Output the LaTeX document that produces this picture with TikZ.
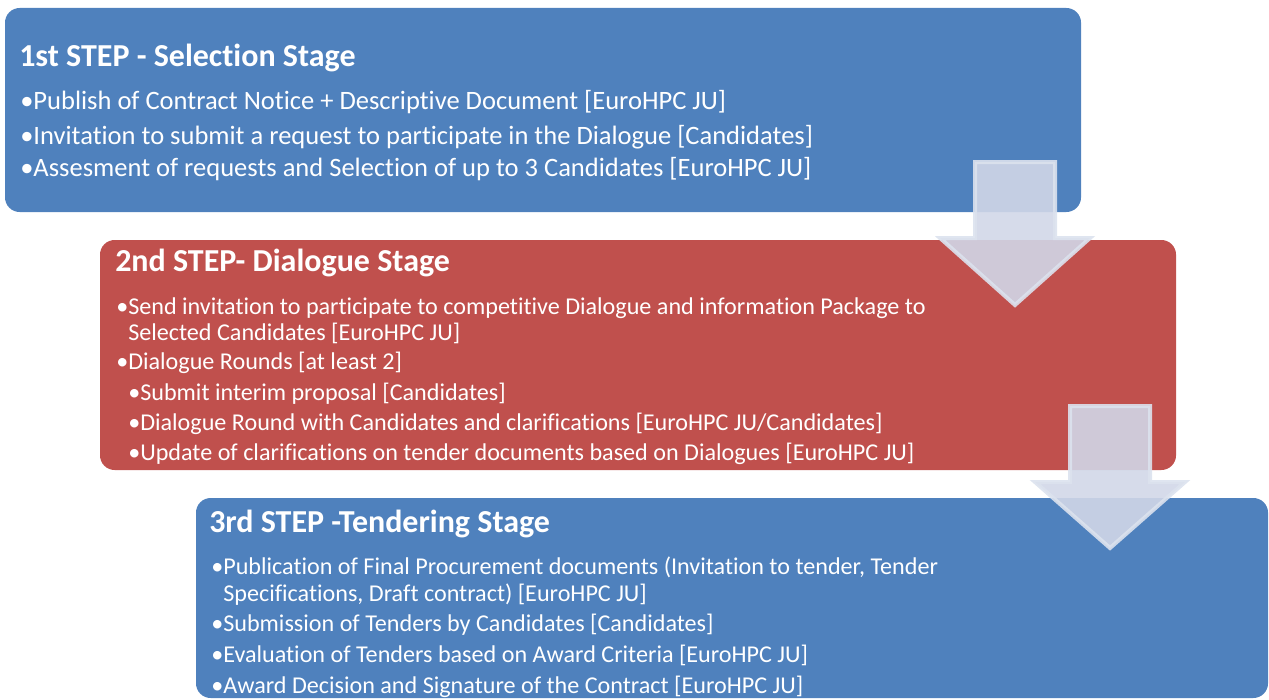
\documentclass[tikz,border=0pt]{standalone}
\usepackage{fontspec}
\setmainfont[RawFeature={-liga}]{Carlito}
\usetikzlibrary{positioning}
\definecolor{stageblue}{RGB}{79,129,189}
\definecolor{stagered}{RGB}{192,80,77}
\definecolor{flowfill}{RGB}{209,215,232}
\definecolor{flowedge}{RGB}{220,226,238}
\tikzset{
	stage/.style={
		rounded corners = 11pt,
		draw = none
	},
	head/.style={
		anchor = base west,
		inner sep = 0,
		text = white,
		font = \fontsize{24}{28}\selectfont\bfseries
	},
	item/.style={
		anchor = base west,
		inner sep = 0,
		text = white,
		font = \fontsize{18.1}{22}\selectfont
	},
	big/.style={
		font = \fontsize{19.9}{24}\selectfont
	},
	flow/.style={
		fill = flowfill,
		draw = flowedge,
		line width = 3pt,
		fill opacity = 0.9,
		draw opacity = 0.9,
		line join = miter
	},
}

\begin{document}
\begin{tikzpicture}[x=0.75pt, y=-0.75pt]
    \useasboundingbox (0,0) rectangle (1269,699);
    % selection stage
    \fill[stage, stageblue] (5,8) rectangle (1081,212);
    \node[head] (h1) at (19,66) {1st STEP - Selection Stage};
    \foreach \y/\txt [count=\i] in {
      109/{•Publish of Contract Notice + Descriptive Document [EuroHPC JU]},
      144/{•Invitation to submit a request to participate in the Dialogue [Candidates]},
      176/{•Assesment of requests and Selection of up to 3 Candidates [EuroHPC JU]}}{
      \node[item, big] (a\i) at (20,\y) {\txt};
    }
    % dialogue stage
    \fill[stage, stagered] (100,240) rectangle (1176,470);
    \node[head] (h2) at (115,271) {2nd STEP- Dialogue Stage};
    \foreach \x/\y/\txt [count=\i] in {
      116/314/{•Send invitation to participate to competitive Dialogue and information Package to},
      116/340/{\phantom{•}Selected Candidates [EuroHPC JU]},
      116/369/{•Dialogue Rounds [at least 2]},
      128/400/{•Submit interim proposal [Candidates]},
      128/430/{•Dialogue Round with Candidates and clarifications [EuroHPC JU/Candidates]},
      128/460/{•Update of clarifications on tender documents based on Dialogues [EuroHPC JU]}}{
      \node[item] (b\i) at (\x,\y) {\txt};
    }
    % arrow 1 -> 2
    \coordinate (p1) at (1015,305);
    \draw[flow] (975,162) -- (1055,162) -- (1055,238) -- (1090,238) -- (p1)
      -- (940,238) -- (975,238) -- cycle;
    % tendering stage
    \fill[stage, stageblue] (196,498) rectangle (1268,698);
    \node[head] (h3) at (209,532) {3rd STEP -Tendering Stage};
    \foreach \y/\txt [count=\i] in {
      574/{•Publication of Final Procurement documents (Invitation to tender, Tender},
      601/{\phantom{•}Specifications, Draft contract) [EuroHPC JU]},
      631/{•Submission of Tenders by Candidates [Candidates]},
      662/{•Evaluation of Tenders based on Award Criteria [EuroHPC JU]},
      693/{•Award Decision and Signature of the Contract [EuroHPC JU]}}{
      \node[item] (c\i) at (211,\y) {\txt};
    }
    % arrow 2 -> 3
    \coordinate (p2) at (1110,548);
    \draw[flow] (1070,406) -- (1150,406) -- (1150,482) -- (1185,482) -- (p2)
      -- (1035,482) -- (1070,482) -- cycle;
\end{tikzpicture}
\end{document}
